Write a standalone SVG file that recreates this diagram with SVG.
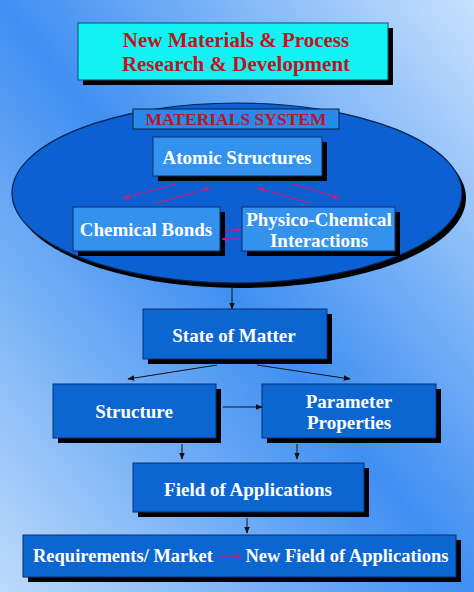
<svg xmlns="http://www.w3.org/2000/svg" width="474" height="592" viewBox="0 0 474 592">
<defs>
<linearGradient id="bg" x1="0" y1="1" x2="1" y2="0">
<stop offset="0" stop-color="#BCDBFB"/>
<stop offset="0.5" stop-color="#3F8FF2"/>
<stop offset="1" stop-color="#C8E1FD"/>
</linearGradient>
<marker id="ah" viewBox="0 0 10 10" refX="9" refY="5" markerWidth="7" markerHeight="7" markerUnits="userSpaceOnUse" orient="auto">
<path d="M0,1 L10,5 L0,9 z" fill="#111"/>
</marker>
<marker id="ahp" viewBox="0 0 10 10" refX="9" refY="5" markerWidth="6" markerHeight="6" markerUnits="userSpaceOnUse" orient="auto">
<path d="M0,1 L10,5 L0,9 z" fill="#D4187E"/>
</marker>
</defs>
<style>
.sh{fill:#000}
.box{fill:#0C66D1;stroke:#0A2F6E;stroke-width:1}
.ibox{fill:#3392EE;stroke:#0A2F6E;stroke-width:1}
.t{font-family:"Liberation Serif","Times New Roman",serif;font-weight:bold;fill:#fff;text-anchor:middle;font-size:19px}
.tb{font-size:18.5px}
.ti{fill:#C0141E;font-size:21px}
.ms{fill:#B3172A;font-size:17.5px}
.c{stroke:#111;stroke-width:1;fill:none;marker-end:url(#ah)}
.p{stroke:#D4187E;stroke-width:1.2;fill:none;marker-end:url(#ahp)}
</style>
<rect width="474" height="592" fill="url(#bg)"/>

<g id="title">
<rect class="sh" x="83" y="28" width="310" height="57"/>
<rect x="78" y="23" width="310" height="57" fill="#13F2F2" stroke="#0A4F70" stroke-width="1"/>
<text class="t ti" x="236" y="47">New Materials &amp; Process</text>
<text class="t ti" x="236" y="71">Research &amp; Development</text>
</g>

<g id="materials-system">
<ellipse cx="241" cy="198" rx="225" ry="90" fill="#000"/>
<ellipse cx="237" cy="193" rx="225" ry="90" fill="#0C60D2" stroke="#06224E" stroke-width="1.2"/>
<rect x="133" y="109" width="206" height="20" fill="#2A8AEB" stroke="#06224E" stroke-width="1"/>
<text class="t ms" x="236" y="125">MATERIALS SYSTEM</text>
</g>

<g id="atomic">
<rect class="sh" x="158" y="142" width="169" height="39"/>
<rect class="ibox" x="153" y="137" width="169" height="39"/>
<text class="t" x="237" y="164">Atomic Structures</text>
</g>

<g id="chemical">
<rect class="sh" x="78" y="212" width="147" height="44"/>
<rect class="ibox" x="73" y="207" width="147" height="44"/>
<text class="t" x="146" y="236">Chemical Bonds</text>
</g>

<g id="physico">
<rect class="sh" x="247" y="212" width="153" height="44"/>
<rect class="ibox" x="242" y="207" width="153" height="44"/>
<text class="t" x="319" y="226">Physico-Chemical</text>
<text class="t" x="319" y="247">Interactions</text>
</g>

<g id="state">
<rect class="sh" x="148" y="314" width="184" height="50"/>
<rect class="box" x="143" y="309" width="184" height="50"/>
<text class="t" x="234" y="342">State of Matter</text>
</g>

<g id="structure">
<rect class="sh" x="58" y="389" width="163" height="54"/>
<rect class="box" x="53" y="384" width="163" height="54"/>
<text class="t" x="134" y="418">Structure</text>
</g>

<g id="parameter">
<rect class="sh" x="267" y="389" width="174" height="54"/>
<rect class="box" x="262" y="384" width="174" height="54"/>
<text class="t" x="349" y="408">Parameter</text>
<text class="t" x="349" y="429">Properties</text>
</g>

<g id="field">
<rect class="sh" x="138" y="468" width="231" height="49"/>
<rect class="box" x="133" y="463" width="231" height="49"/>
<text class="t" x="248" y="496">Field of Applications</text>
</g>

<g id="market">
<rect class="sh" x="28" y="540" width="433" height="42"/>
<rect class="box" x="23" y="535" width="433" height="42"/>
<text class="t tb" x="123" y="562">Requirements/ Market</text>
<text class="t tb" x="347" y="562">New Field of Applications</text>
</g>

<g id="connectors">
<line class="p" x1="176" y1="184" x2="124" y2="198"/>
<line class="p" x1="157" y1="203" x2="210" y2="188"/>
<line class="p" x1="310" y1="203" x2="258" y2="188"/>
<line class="p" x1="293" y1="184" x2="339" y2="198"/>
<line class="p" x1="226" y1="230" x2="241" y2="230"/>
<line class="p" x1="240" y1="239" x2="222" y2="239"/>
<line class="c" x1="232" y1="286" x2="232" y2="309"/>
<line class="c" x1="217" y1="365" x2="128" y2="379"/>
<line class="c" x1="257" y1="365" x2="350" y2="379"/>
<line class="c" x1="223" y1="407" x2="262" y2="407"/>
<line class="c" x1="182" y1="444" x2="182" y2="459"/>
<line class="c" x1="297" y1="444" x2="297" y2="459"/>
<line class="c" x1="247" y1="518" x2="247" y2="533"/>
<line class="p" x1="218" y1="556" x2="241" y2="556"/>
</g>
</svg>
